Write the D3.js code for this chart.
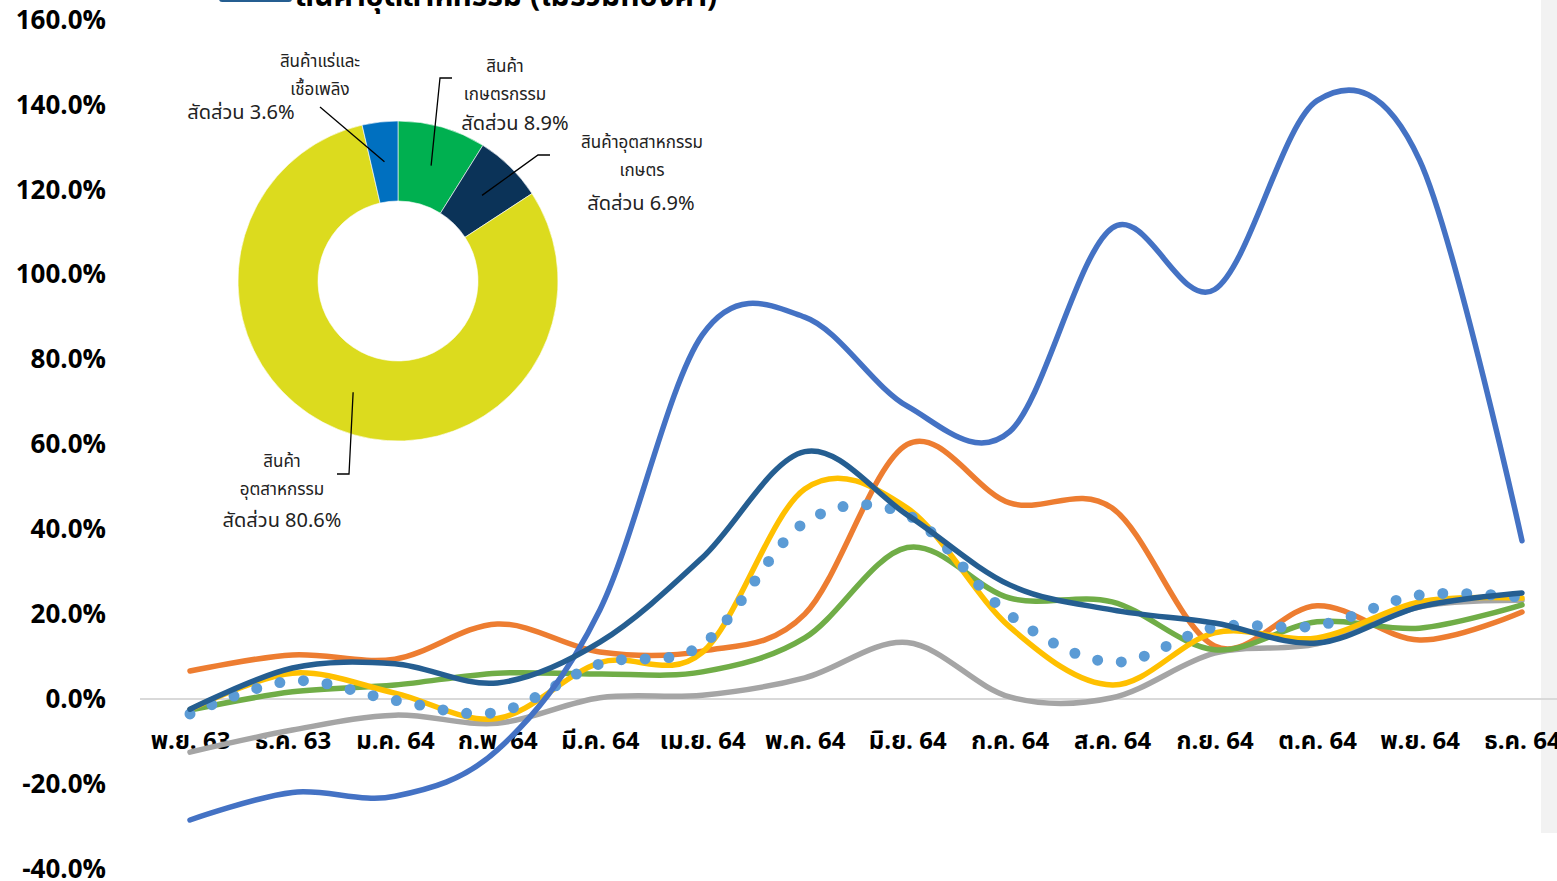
<!DOCTYPE html>
<meta charset="utf-8">
<script src="https://d3js.org/d3.v7.min.js"></script>
<style>
  body { margin: 0; background: #fff; }
  text { font-family: "Noto Sans Thai", "Noto Sans", "DejaVu Sans", sans-serif; }
</style>
<div id="chart"></div>
<script>
    // ข้อมูล
    const months = ["พ.ย. 63","ธ.ค. 63","ม.ค. 64","ก.พ. 64","มี.ค. 64","เม.ย. 64","พ.ค. 64","มิ.ย. 64","ก.ค. 64","ส.ค. 64","ก.ย. 64","ต.ค. 64","พ.ย. 64","ธ.ค. 64"];
    const yTicks = [-40,-20,0,20,40,60,80,100,120,140,160];

    const fuel      = [-28.5,-22,-22.9,-12,21,85.8,90,69,63,111,96.5,141,127,37.3];
    const agroInd   = [6.6,10.4,9.4,17.7,11.1,11.3,20,60,46.2,45,12.5,22,13.9,20.5];
    const grayS     = [-12.5,-7.3,-3.8,-5.7,0.3,0.9,5,13.3,0.5,0.3,10.8,13,21.7,23.3];
    const greenS    = [-2.6,1.7,3.3,6.1,5.9,6.4,14.4,35.7,23.8,22.9,11.6,18.2,16.7,22.2];
    const yellowS   = [-2.5,6.1,1.4,-4.6,8.6,11,49.5,45,17,3.3,15.6,14.4,22.9,23.8];
    const totalS    = [-3.5,4.3,-0.3,-3.1,8.3,12.8,41.6,43.4,19.8,8.7,16.9,17.3,24.5,24];
    const industry  = [-2.4,7.3,8.3,3.8,13.4,33.3,58.3,43.4,26.9,21,17.9,13.2,21.7,25];

    const shareNames = ["สินค้าเกษตรกรรม","สินค้าอุตสาหกรรมเกษตร","สินค้าอุตสาหกรรม","สินค้าแร่และเชื้อเพลิง"];
    const shareValues = [8.9, 6.9, 80.6, 3.6];

    const W = 1557, H = 881;
    const svg = d3.select("#chart").append("svg")
        .attr("width", W).attr("height", H);

    // แถบเทาด้านขวา
    svg.append("rect").attr("x", 1541).attr("y", 0).attr("width", 16).attr("height", 833).attr("fill", "#f2f2f2");

    // สเกล
    const x = d3.scalePoint().domain(months).range([190, 1522]);
    const y = d3.scaleLinear().domain([-40, 160]).range([868.8, 20]);

    // เส้นศูนย์
    svg.append("line")
        .attr("x1", 140).attr("x2", W)
        .attr("y1", y(0)).attr("y2", y(0))
        .attr("stroke", "#d9d9d9").attr("stroke-width", 2);

    // แกน y
    const yAxis = svg.append("g")
        .attr("transform", "translate(106,0)")
        .call(d3.axisLeft(y).tickValues(yTicks).tickSize(0).tickPadding(0)
            .tickFormat(d => d.toFixed(1) + "%"));
    yAxis.select(".domain").remove();
    yAxis.selectAll("text").attr("font-size", 26).attr("font-weight", "bold").attr("fill", "#000");

    // แกน x
    const xAxis = svg.append("g")
        .attr("transform", "translate(0,732)")
        .call(d3.axisBottom(x).tickSize(0).tickPadding(0));
    xAxis.select(".domain").remove();
    xAxis.selectAll("text").attr("font-size", 24).attr("font-weight", "bold").attr("fill", "#000");

    // เส้นข้อมูล
    const line = d3.line()
        .x((d, i) => x(months[i]))
        .y(d => y(d))
        .curve(d3.curveCardinal.tension(0));

    const series = [
        {data: grayS, color: "#a5a5a5"},
        {data: agroInd, color: "#ed7d31"},
        {data: greenS, color: "#70ad47"},
        {data: yellowS, color: "#ffc000"},
        {data: totalS, color: "#5b9bd5", dotted: true},
        {data: fuel, color: "#4472c4"},
        {data: industry, color: "#255e91"}
    ];

    series.forEach(s => {
        svg.append("path")
            .datum(s.data)
            .attr("fill", "none")
            .attr("stroke", s.color)
            .attr("stroke-width", s.dotted ? 11 : 5.5)
            .attr("stroke-linecap", "round")
            .attr("stroke-linejoin", "round")
            .attr("stroke-dasharray", s.dotted ? "0,23.8" : null)
            .attr("d", line);
    });

    // หัวเรื่อง (ถูกตัดด้านบน)
    svg.append("line")
        .attr("x1", 222).attr("x2", 289).attr("y1", -1).attr("y2", -1)
        .attr("stroke", "#255e91").attr("stroke-width", 6).attr("stroke-linecap", "round");
    svg.append("text")
        .attr("x", 296).attr("y", 6)
        .attr("font-size", 30).attr("font-weight", "bold")
        .text("สินค้าอุตสาหกรรม (ไม่รวมทองคำ)");

    // โดนัท
    const cx = 398, cy = 281;
    const pie = d3.pie().sort(null).value(d => d);
    const arc = d3.arc().innerRadius(80).outerRadius(160);
    const pieColors = ["#00b050", "#0b3358", "#dcdb1e", "#0070c0"];
    const arcs = pie(shareValues);

    const donut = svg.append("g").attr("transform", `translate(${cx},${cy})`);
    donut.selectAll("path")
        .data(arcs)
        .join("path")
        .attr("d", arc)
        .attr("fill", (d, i) => pieColors[i])
        .attr("stroke", "#fff")
        .attr("stroke-width", 0.6);

    // ป้ายกำกับ
    const labels = [
        {lines: ["สินค้า", "เกษตรกรรม"], share: "สัดส่วน 8.9%", lx: 505, ly: 67, sx: 515, sy: 124,
            leader: [[452, 78], [440, 78]]},
        {lines: ["สินค้าอุตสาหกรรม", "เกษตร"], share: "สัดส่วน 6.9%", lx: 642, ly: 143, sx: 641, sy: 204,
            leader: [[550, 155], [538, 155]]},
        {lines: ["สินค้า", "อุตสาหกรรม"], share: "สัดส่วน 80.6%", lx: 282, ly: 462, sx: 282, sy: 521,
            leader: [[337, 474], [349, 474]]},
        {lines: ["สินค้าแร่และ", "เชื้อเพลิง"], share: "สัดส่วน 3.6%", lx: 320, ly: 62, sx: 241, sy: 113,
            leader: [[320, 107]]}
    ];

    labels.forEach((l, i) => {
        const c = arc.centroid(arcs[i]);
        const pts = l.leader.concat([[cx + c[0], cy + c[1]]]);
        svg.append("path")
            .attr("d", d3.line()(pts))
            .attr("fill", "none").attr("stroke", "#000").attr("stroke-width", 1.3);
        l.lines.forEach((t, j) => {
            svg.append("text")
                .attr("x", l.lx).attr("y", l.ly + j * 28)
                .attr("text-anchor", "middle").attr("dominant-baseline", "middle")
                .attr("font-size", 17).attr("fill", "#222")
                .text(t);
        });
        svg.append("text")
            .attr("x", l.sx).attr("y", l.sy)
            .attr("text-anchor", "middle").attr("dominant-baseline", "middle")
            .attr("font-size", 20).attr("fill", "#222")
            .text(l.share);
    });
</script>
